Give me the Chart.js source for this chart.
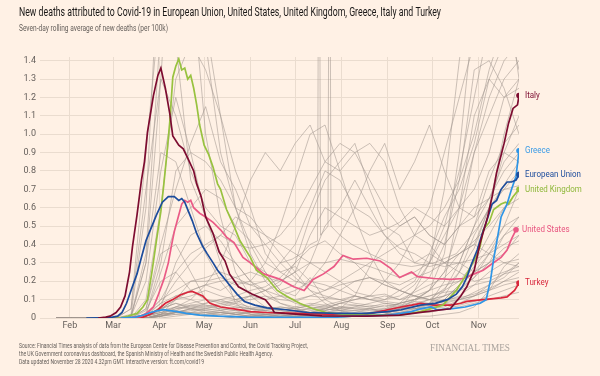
<!DOCTYPE html>
<html lang="en">
<head>
<meta charset="UTF-8">
<title>New deaths attributed to Covid-19</title>
<script src="https://cdn.jsdelivr.net/npm/chart.js"></script>
<style>
  html, body { margin: 0; padding: 0; background: #fff1e5; }
</style>
</head>
<body>
<canvas id="myChart" width="600" height="376"></canvas>
<script>
// x values are day numbers in 2020 (1 Jan = 0)
const monthDays = [31, 60, 91, 121, 152, 182, 213, 244, 274, 305];
const monthNames = ['Feb', 'Mar', 'Apr', 'May', 'Jun', 'Jul', 'Aug', 'Sep', 'Oct', 'Nov'];
const yTicks = [0, 0.1, 0.2, 0.3, 0.4, 0.5, 0.6, 0.7, 0.8, 0.9, 1.0, 1.1, 1.2, 1.3, 1.4];

// highlighted series: [day, deaths per 100k]
const italy = [[50,0],[55,0.005],[58,0.01],[62,0.03],[65,0.06],[68,0.12],[71,0.25],[73,0.39],[76,0.56],[79,0.75],[81,0.85],[83,1.01],[87,1.21],[90,1.32],[92,1.36],[95,1.25],[98,1.11],[100,0.99],[104,0.94],[107,0.92],[110,0.87],[114,0.80],[116,0.73],[119,0.66],[122,0.55],[127,0.46],[131,0.36],[135,0.31],[138,0.24],[144,0.17],[153,0.13],[162,0.10],[166,0.06],[168,0.03],[175,0.025],[200,0.012],[230,0.01],[252,0.016],[270,0.035],[286,0.05],[289,0.08],[293,0.12],[297,0.17],[302,0.26],[306,0.41],[311,0.55],[314,0.66],[317,0.79],[322,0.95],[325,1.06],[328,1.14],[331,1.16],[332,1.21]];
const greece = [[65,0],[75,0.005],[80,0.015],[85,0.03],[90,0.04],[94,0.045],[98,0.04],[103,0.035],[109,0.025],[118,0.016],[130,0.01],[150,0.005],[185,0.003],[210,0.005],[220,0.01],[235,0.013],[244,0.016],[253,0.025],[260,0.035],[266,0.05],[273,0.06],[277,0.045],[286,0.05],[296,0.06],[306,0.08],[310,0.10],[313,0.21],[315,0.32],[317,0.41],[320,0.55],[324,0.62],[327,0.70],[330,0.77],[332,0.91]];
const eu = [[42,0],[58,0.002],[63,0.01],[66,0.03],[69,0.08],[72,0.15],[76,0.24],[79,0.33],[82,0.42],[86,0.50],[89,0.56],[93,0.63],[97,0.66],[101,0.66],[104,0.64],[106,0.65],[108,0.63],[110,0.59],[113,0.53],[116,0.46],[120,0.39],[123,0.35],[127,0.30],[130,0.26],[134,0.22],[138,0.18],[143,0.13],[148,0.09],[155,0.07],[163,0.055],[176,0.045],[190,0.03],[210,0.025],[230,0.025],[244,0.035],[253,0.045],[266,0.07],[276,0.08],[284,0.10],[290,0.13],[294,0.17],[297,0.22],[300,0.29],[304,0.37],[307,0.45],[310,0.52],[314,0.62],[317,0.64],[320,0.70],[324,0.74],[327,0.74],[330,0.75],[332,0.78]];
const uk = [[58,0],[65,0],[70,0.01],[76,0.025],[80,0.06],[83,0.10],[86,0.25],[89,0.42],[92,0.58],[94,0.73],[96,0.89],[98,1.07],[100,1.31],[102,1.37],[104,1.41],[106,1.35],[108,1.36],[110,1.30],[112,1.32],[114,1.25],[116,1.16],[118,1.05],[121,0.94],[124,0.89],[127,0.82],[130,0.73],[132,0.70],[136,0.59],[141,0.50],[145,0.42],[152,0.33],[156,0.26],[163,0.22],[170,0.15],[176,0.12],[185,0.08],[194,0.05],[203,0.03],[215,0.02],[230,0.016],[252,0.016],[266,0.035],[281,0.07],[290,0.15],[297,0.24],[303,0.33],[306,0.39],[308,0.48],[312,0.52],[315,0.59],[320,0.62],[323,0.63],[325,0.62],[328,0.66],[332,0.70]];
const us = [[60,0],[70,0.002],[78,0.007],[83,0.03],[87,0.06],[90,0.12],[94,0.21],[97,0.30],[99,0.39],[101,0.47],[103,0.53],[106,0.62],[108,0.64],[110,0.63],[112,0.64],[114,0.60],[118,0.57],[122,0.55],[127,0.52],[132,0.48],[136,0.44],[141,0.41],[147,0.33],[152,0.30],[161,0.24],[172,0.21],[181,0.17],[188,0.15],[194,0.21],[201,0.24],[208,0.28],[214,0.34],[221,0.32],[230,0.325],[239,0.31],[246,0.27],[252,0.22],[260,0.25],[264,0.225],[275,0.215],[286,0.21],[295,0.215],[302,0.24],[308,0.26],[313,0.29],[320,0.33],[324,0.37],[327,0.43],[330,0.48]];
const turkey = [[75,0],[80,0.005],[85,0.02],[90,0.045],[95,0.08],[100,0.10],[105,0.125],[110,0.14],[113,0.145],[116,0.135],[120,0.12],[125,0.08],[132,0.06],[141,0.05],[152,0.035],[163,0.03],[185,0.025],[208,0.02],[230,0.02],[244,0.045],[253,0.06],[260,0.07],[266,0.08],[275,0.07],[286,0.07],[293,0.08],[297,0.09],[308,0.10],[320,0.11],[324,0.115],[329,0.15],[332,0.19]];

// background countries and states, sampled every 10 days
const greyDays = [22,32,42,52,62,72,82,92,102,112,122,132,142,152,162,172,182,192,202,212,222,232,242,252,262,272,282,292,302,312,322,332];
const grey01 = [0,0,0,0,0,0.01,0.35,1.6,2.5,1.9,1.0,0.55,0.25,0.12,0.06,0.05,0.04,0.03,0.04,0.06,0.07,0.06,0.05,0.06,0.09,0.15,0.35,0.9,1.7,2.3,1.9,1.3];
const grey02 = [0,0,0,0,0,0.05,0.9,1.75,1.5,0.75,0.55,0.3,0.08,0.02,0.01,0.02,0.01,0.02,0.03,0.05,0.12,0.28,0.42,0.5,0.55,0.45,0.4,0.5,0.55,0.8,0.9,0.85];
const grey03 = [0,0,0,0,0,0.02,0.6,2.2,4.0,2.8,1.5,0.9,0.6,0.35,0.2,0.12,0.08,0.06,0.05,0.04,0.04,0.03,0.04,0.03,0.04,0.05,0.06,0.1,0.12,0.18,0.22,0.3];
const grey04 = [0,0,0,0,0,0.01,0.3,1.3,2.6,2.2,1.6,1.1,0.6,0.4,0.25,0.15,0.12,0.22,0.1,0.06,0.05,0.05,0.04,0.05,0.06,0.07,0.1,0.18,0.25,0.35,0.45,0.55];
const grey05 = [0,0,0,0,0,0.01,0.2,0.8,1.2,0.9,0.55,0.35,0.3,0.2,0.15,0.08,0.05,0.03,0.02,0.02,0.01,0.02,0.04,0.08,0.15,0.22,0.4,0.75,1.35,1.4,1.25,1.0];
const grey06 = [0,0,0,0,0,0,0.1,0.6,1.3,1.5,1.35,1.1,0.8,0.6,0.35,0.25,0.2,0.18,0.15,0.2,0.14,0.12,0.13,0.1,0.12,0.15,0.18,0.2,0.25,0.3,0.45,0.5];
const grey07 = [0,0,0,0,0,0.05,0.7,1.3,1.1,0.8,0.6,0.5,0.45,0.3,0.25,0.15,0.18,0.3,0.5,0.6,0.75,0.6,0.45,0.35,0.3,0.28,0.3,0.35,0.4,0.6,1.0,1.3];
const grey08 = [0,0,0,0,0,0,0.02,0.05,0.1,0.2,0.2,0.22,0.18,0.2,0.3,0.5,0.75,1.0,1.05,0.8,0.55,0.35,0.2,0.15,0.12,0.1,0.12,0.15,0.22,0.35,0.5,0.7];
const grey09 = [0,0,0,0,0,0,0.01,0.05,0.1,0.12,0.15,0.12,0.1,0.12,0.15,0.18,0.3,0.55,0.75,0.85,0.95,0.7,0.5,0.45,0.3,0.35,0.3,0.3,0.32,0.35,0.4,0.45];
const grey10 = [0,0,0,0,0,0,0.02,0.1,0.25,0.35,0.4,0.45,0.4,0.38,0.4,0.45,0.55,0.7,0.85,0.95,0.9,0.75,0.6,0.5,0.55,0.45,0.4,0.5,0.6,0.65,0.7,0.8];
const grey11 = [0,0,0,0,0,0,0.01,0.04,0.12,0.15,0.18,0.15,0.2,0.18,0.2,0.3,0.4,0.6,0.8,0.75,0.6,0.55,0.45,0.38,0.35,0.3,0.28,0.3,0.25,0.3,0.35,0.45];
const grey12 = [0,0,0,0,0,0,0,0.02,0.03,0.05,0.08,0.1,0.07,0.05,0.04,0.03,0.04,0.03,0.05,0.08,0.1,0.12,0.2,0.3,0.45,0.6,0.9,1.2,1.5,1.9,2.4,2.1];
const grey13 = [0,0,0,0,0,0,0,0.02,0.03,0.02,0.01,0.01,0,0,0.01,0,0.01,0,0.01,0,0.01,0.01,0.02,0.05,0.15,0.3,0.7,1.4,2.0,2.2,1.7,1.35];
const grey14 = [0,0,0,0,0,0,0,0.01,0.03,0.03,0.03,0.03,0.02,0.03,0.02,0.01,0.02,0.01,0.02,0.03,0.02,0.03,0.05,0.08,0.1,0.15,0.25,0.5,0.9,1.2,1.4,1.5];
const grey15 = [0,0,0,0,0,0,0.01,0.03,0.05,0.06,0.07,0.06,0.08,0.12,0.15,0.2,0.25,0.3,0.3,0.32,0.3,0.28,0.25,0.22,0.25,0.3,0.45,0.6,0.9,1.1,1.3,1.4];
const grey16 = [0,0,0,0,0,0,0.05,0.35,0.4,0.25,0.1,0.04,0.02,0.01,0.01,0,0.01,0.01,0,0.01,0.01,0.01,0.02,0.03,0.05,0.08,0.2,0.6,1.1,1.3,1.2,1.25];
const grey17 = [0,0,0,0,0,0.01,0.3,0.9,0.85,0.6,0.35,0.2,0.1,0.05,0.02,0.01,0.01,0.01,0.01,0.01,0.01,0.01,0.02,0.05,0.1,0.15,0.25,0.35,0.4,0.35,0.3,0.28];
const grey18 = [0,0,0,0,0,0,0.04,0.2,0.25,0.15,0.1,0.08,0.06,0.05,0.06,0.04,0.05,0.03,0.03,0.02,0.02,0.03,0.03,0.04,0.06,0.08,0.12,0.25,0.45,0.6,0.7,0.72];
const grey19 = [0,0,0,0,0,0,0.01,0.05,0.08,0.05,0.03,0.01,0,0.01,0,0.01,0.02,0.03,0.05,0.08,0.1,0.12,0.1,0.12,0.18,0.3,0.5,0.8,1.2,1.6,1.8,1.7];
const grey20 = [0,0,0,0,0,0,0,0.01,0.03,0.05,0.04,0.03,0.02,0.01,0.02,0.03,0.02,0.04,0.05,0.04,0.06,0.08,0.1,0.15,0.2,0.35,0.55,0.7,0.95,1.3,1.5,1.6];
const grey21 = [0,0,0,0,0,0,0.02,0.3,0.8,0.9,0.85,0.75,0.6,0.55,0.45,0.35,0.25,0.15,0.08,0.04,0.02,0.01,0.01,0.01,0.01,0.01,0.02,0.03,0.06,0.15,0.28,0.35];
const grey22 = [0,0,0,0,0,0,0,0.02,0.06,0.1,0.18,0.3,0.5,0.75,0.9,0.8,0.95,1.05,0.85,0.8,0.9,0.95,0.85,0.6,0.45,0.4,0.3,0.25,0.2,0.22,0.25,0.28];
const grey23 = [0,0,0,0,0,0,0.01,0.05,0.08,0.06,0.05,0.04,0.03,0.03,0.02,0.02,0.03,0.02,0.03,0.04,0.03,0.05,0.04,0.06,0.05,0.07,0.09,0.12,0.18,0.25,0.3,0.32];
const grey24 = [0,0,0,0,0,0,0,0.02,0.03,0.04,0.05,0.04,0.06,0.05,0.04,0.06,0.05,0.07,0.06,0.08,0.07,0.06,0.08,0.07,0.09,0.08,0.1,0.11,0.13,0.16,0.2,0.22];
const grey25 = [0,0,0,0,0,0,0.02,0.08,0.12,0.1,0.07,0.05,0.04,0.02,0.01,0.01,0.02,0.01,0.01,0.02,0.01,0.02,0.02,0.03,0.04,0.06,0.1,0.18,0.28,0.38,0.5,0.55];
const grey26 = [0,0,0,0,0,0,0,0.01,0.02,0.03,0.05,0.07,0.09,0.1,0.12,0.1,0.09,0.12,0.11,0.1,0.12,0.1,0.09,0.08,0.1,0.12,0.14,0.15,0.18,0.2,0.24,0.26];
const grey27 = [0,0,0,0,0,0,0.01,0.03,0.06,0.05,0.04,0.03,0.02,0.01,0.01,0,0.01,0,0.01,0.01,0.01,0.01,0.02,0.02,0.03,0.03,0.05,0.08,0.12,0.15,0.18,0.2];
const grey28 = [0,0,0,0,0,0,0,0.01,0.04,0.07,0.08,0.1,0.12,0.15,0.17,0.22,0.3,0.38,0.42,0.35,0.3,0.22,0.18,0.15,0.12,0.1,0.09,0.1,0.12,0.15,0.2,0.25];
const grey29 = [0,0,0,0,0,0,0.01,0.04,0.06,0.08,0.1,0.09,0.08,0.06,0.05,0.04,0.06,0.08,0.07,0.05,0.04,0.05,0.03,0.05,0.06,0.08,0.15,0.3,0.5,0.65,0.85,0.95];
const grey30 = [0,0,0,0,0,0,0,0.01,0.02,0.02,0.03,0.02,0.03,0.02,0.02,0.03,0.04,0.05,0.07,0.09,0.12,0.1,0.08,0.07,0.05,0.06,0.07,0.06,0.08,0.1,0.12,0.14];
const grey31 = [0,0,0,0,0,0,0.02,0.1,0.15,0.2,0.22,0.25,0.22,0.18,0.15,0.12,0.1,0.12,0.15,0.18,0.2,0.22,0.2,0.18,0.22,0.25,0.3,0.35,0.42,0.5,0.6,0.65];
const grey32 = [0,0,0,0,0,0,0,0,0.01,0.02,0.02,0.03,0.02,0.03,0.05,0.06,0.05,0.07,0.1,0.15,0.2,0.22,0.18,0.15,0.12,0.1,0.08,0.07,0.09,0.12,0.15,0.18];
const grey33 = [0,0,0,0,0,0,0.01,0.06,0.3,0.45,0.5,0.42,0.3,0.2,0.12,0.08,0.06,0.05,0.04,0.06,0.05,0.04,0.04,0.05,0.07,0.1,0.16,0.25,0.38,0.6,0.9,1.1];
const grey34 = [0,0,0,0,0,0,0,0.02,0.1,0.15,0.18,0.2,0.22,0.25,0.22,0.2,0.25,0.45,0.6,0.55,0.5,0.45,0.48,0.52,0.6,0.55,0.5,0.6,0.7,0.9,1.2,1.3];
const grey35 = [0,0,0,0,0,0,0.05,0.4,0.7,0.95,1.15,0.85,0.7,0.5,0.4,0.3,0.22,0.15,0.12,0.1,0.08,0.07,0.06,0.08,0.1,0.12,0.15,0.2,0.3,0.45,0.6,0.7];
const grey36 = [0,0,0,0,0,0,0.02,0.25,0.5,0.6,0.7,0.65,0.5,0.42,0.3,0.25,0.28,0.2,0.18,0.15,0.12,0.1,0.12,0.1,0.14,0.18,0.22,0.3,0.5,0.75,0.95,1.05];
const grey37 = [0,0,0,0,0,0,0,0.02,0.05,0.07,0.06,0.05,0.04,0.05,0.04,0.03,0.04,0.05,0.06,0.05,0.06,0.05,0.07,0.06,0.08,0.1,0.12,0.16,0.22,0.3,0.38,0.42];
const grey38 = [0,0,0,0,0,0,0.01,0.03,0.04,0.03,0.02,0.02,0.01,0.01,0.02,0.01,0.01,0.02,0.02,0.03,0.02,0.03,0.03,0.04,0.05,0.06,0.08,0.1,0.14,0.18,0.24,0.3];
const grey39 = [0,0,0,0,0,0,0,0.01,0.03,0.05,0.06,0.08,0.1,0.12,0.1,0.12,0.15,0.2,0.3,0.45,0.6,0.8,0.95,0.7,0.85,1.05,0.8,0.6,0.55,0.65,0.8,0.9];
const grey40 = [0,0,0,0,0,0,0.01,0.08,0.2,0.3,0.38,0.45,0.55,0.5,0.45,0.4,0.35,0.3,0.25,0.2,0.25,0.3,0.35,0.4,0.45,0.5,0.6,0.75,1.0,1.35,1.6,1.5];
const greyLines = [grey01, grey02, grey03, grey04, grey05, grey06, grey07, grey08, grey09, grey10, grey11, grey12,
  grey13, grey14, grey15, grey16, grey17, grey18, grey19, grey20, grey21, grey22, grey23, grey24, grey25, grey26,
  grey27, grey28, grey29, grey30, grey31, grey32, grey33, grey34, grey35, grey36, grey37, grey38, grey39, grey40];
// one state with two single-day reporting dumps in July
const greySpikes = [[172,0.3],[180,0.32],[186,0.35],[192,0.4],[197,0.42],[198,3.0],[199,0.45],[204,0.5],[205,3.0],[206,0.5],[212,0.45],[220,0.4],[232,0.35],[245,0.3],[260,0.28],[275,0.3],[290,0.35],[305,0.5],[320,0.7],[332,0.85]];

const highlighted = [
  { label: 'Italy', data: italy, color: '#7d0c30', text: '#7d0c30' },
  { label: 'European Union', data: eu, color: '#1c4c9c', text: '#1c4c9c' },
  { label: 'Greece', data: greece, color: '#2e95e6', text: '#3a9be6' },
  { label: 'United Kingdom', data: uk, color: '#98c23f', text: '#8fb83a' },
  { label: 'United States', data: us, color: '#ea5a86', text: '#e8547f' },
  { label: 'Turkey', data: turkey, color: '#d8263b', text: '#d8263b' }
];

const datasets = [];
highlighted.forEach(s => {
  const last = s.data.length - 1;
  datasets.push({
    label: s.label,
    data: s.data.map(p => ({ x: p[0], y: p[1] })),
    borderColor: s.color,
    backgroundColor: s.color,
    borderWidth: 1.7,
    pointRadius: ctx => ctx.dataIndex === last ? 2.8 : 0,
    pointBorderWidth: 0,
    order: 0
  });
});
greyLines.concat([null]).forEach((vals, i) => {
  const pts = vals ? vals.map((v, j) => ({ x: greyDays[j], y: v })) : greySpikes.map(p => ({ x: p[0], y: p[1] }));
  datasets.push({
    label: 'grey' + i,
    data: pts,
    borderColor: 'rgba(160, 150, 142, 0.55)',
    borderWidth: 1,
    pointRadius: 0,
    order: 1
  });
});

function fitText(ctx, str, x, y, width) {
  const w = ctx.measureText(str).width;
  ctx.save();
  ctx.translate(x, y);
  ctx.scale(width / w, 1);
  ctx.fillText(str, 0, 0);
  ctx.restore();
}

const ftTexts = {
  id: 'ftTexts',
  beforeDraw(chart) {
    const ctx = chart.ctx;
    ctx.save();
    ctx.fillStyle = '#fff1e5';
    ctx.fillRect(0, 0, chart.width, chart.height);
    ctx.restore();
  },
  afterDraw(chart) {
    const ctx = chart.ctx;
    ctx.save();
    ctx.textBaseline = 'middle';
    ctx.textAlign = 'left';
    ctx.fillStyle = '#1a1817';
    ctx.font = "13.5px 'Liberation Sans Narrow', Roboto, sans-serif";
    fitText(ctx, 'New deaths attributed to Covid-19 in European Union, United States, United Kingdom, Greece, Italy and Turkey', 19, 13, 422);
    ctx.fillStyle = '#66605c';
    ctx.font = "9px 'Liberation Sans Narrow', Roboto, sans-serif";
    fitText(ctx, 'Seven-day rolling average of new deaths (per 100k)', 19, 29, 149);

    ctx.font = "7.5px 'Liberation Sans Narrow', Roboto, sans-serif";
    fitText(ctx, 'Source: Financial Times analysis of data from the European Centre for Disease Prevention and Control, the Covid Tracking Project,', 19, 346, 289);
    fitText(ctx, 'the UK Government coronavirus dashboard, the Spanish Ministry of Health and the Swedish Public Health Agency.', 19, 354, 254);
    fitText(ctx, 'Data updated November 28 2020 4.32pm GMT. Interactive version: ft.com/covid19', 19, 362, 185);

    ctx.fillStyle = '#aaa39d';
    ctx.font = "11px 'Liberation Serif', 'DejaVu Serif', serif";
    fitText(ctx, 'FINANCIAL TIMES', 430, 348, 80);

    // end labels
    ctx.font = "9.5px Roboto, sans-serif";
    highlighted.forEach((s, i) => {
      const meta = chart.getDatasetMeta(i);
      const pt = meta.data[meta.data.length - 1];
      ctx.fillStyle = s.text;
      ctx.save();
      ctx.translate(pt.x + 6, pt.y);
      ctx.scale(0.84, 1);
      ctx.fillText(s.label, 0, 0);
      ctx.restore();
    });
    ctx.restore();
  }
};

const tickFont = { family: 'Roboto', size: 9 };

new Chart(document.getElementById('myChart').getContext('2d'), {
  type: 'line',
  data: { datasets: datasets },
  options: {
    responsive: false,
    animation: false,
    layout: { padding: { left: 0, right: 81, top: 57, bottom: 44 } },
    plugins: { legend: { display: false }, tooltip: { enabled: false } },
    elements: { line: { tension: 0 } },
    scales: {
      x: {
        type: 'linear',
        min: 11,
        max: 332,
        afterBuildTicks: s => { s.ticks = monthDays.map(v => ({ value: v })); },
        afterFit: s => { s.height = 14; },
        border: { display: false },
        grid: { color: '#eadccf', drawTicks: false },
        ticks: {
          autoSkip: false,
          maxRotation: 0,
          padding: 2,
          font: tickFont,
          color: '#66605c',
          callback: (v, i) => monthNames[i]
        }
      },
      y: {
        min: 0,
        max: 1.42,
        afterBuildTicks: s => { s.ticks = yTicks.map(v => ({ value: v })); },
        afterFit: s => { s.width = 40; },
        border: { display: false },
        grid: { color: '#eadccf', drawTicks: false },
        ticks: {
          padding: 4,
          font: tickFont,
          color: '#66605c',
          callback: v => v === 0 ? '0' : v.toFixed(1)
        }
      }
    }
  },
  plugins: [ftTexts]
});
</script>
</body>
</html>
